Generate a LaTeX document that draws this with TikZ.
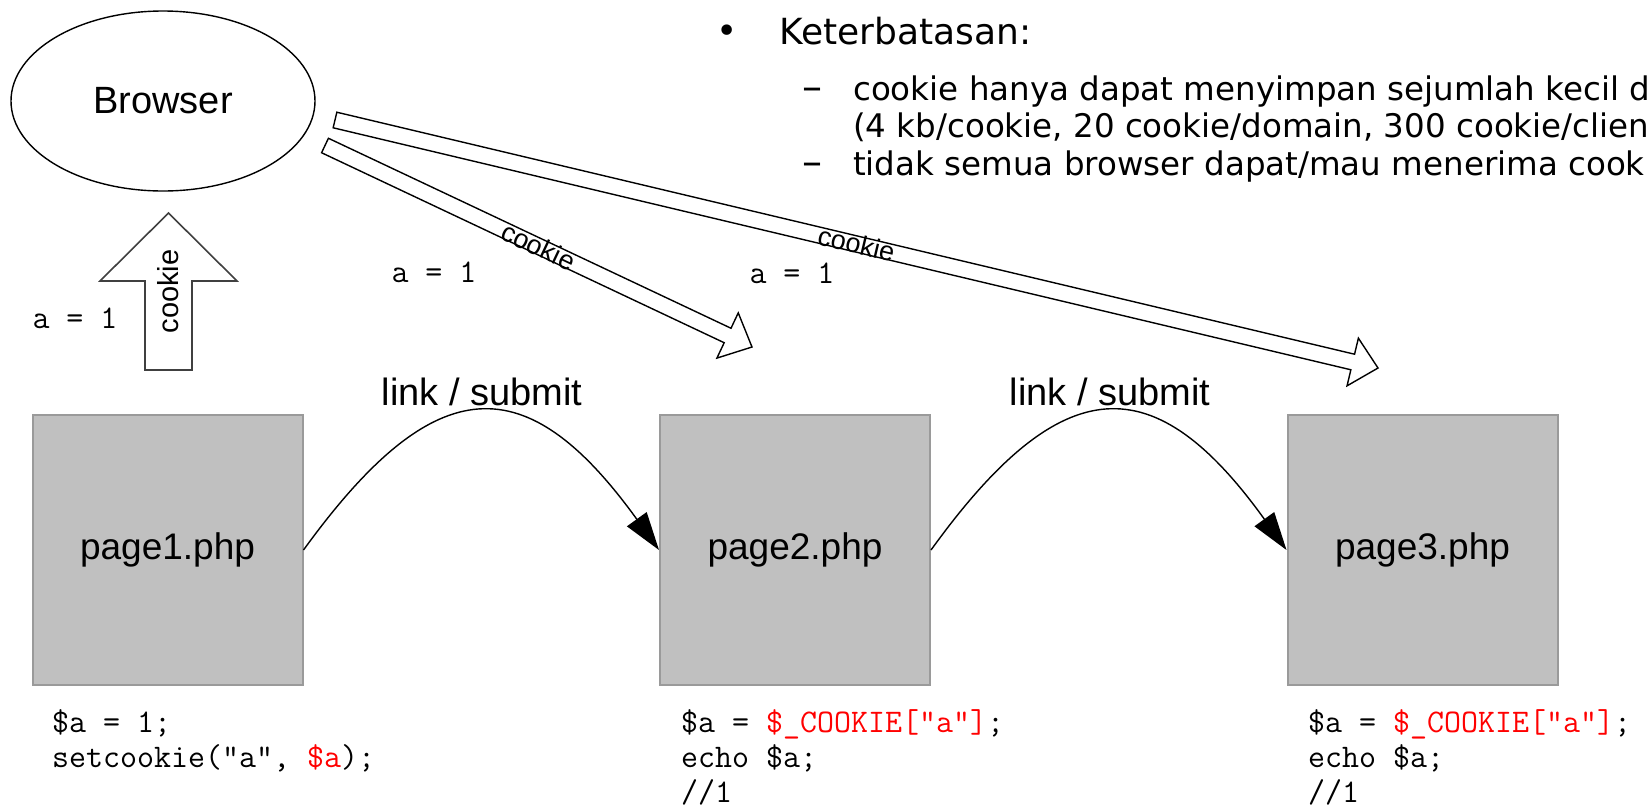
\documentclass[tikz,border=0pt]{standalone}
\usepackage{fontspec}
\setmainfont{Liberation Sans}
\newfontfamily\tahfont{DejaVu Sans}
\usetikzlibrary{shapes.geometric,arrows.meta,calc}
\definecolor{boxgray}{HTML}{C0C0C0}
\definecolor{boxedge}{HTML}{9A9A9A}
\definecolor{codered}{HTML}{FF0000}
% #1 tail, #2 tip, #3 half shaft width, #4 head length, #5 half head width, #6 style
\newcommand{\cookiearrow}[6]{%
  \coordinate (#1hb) at ($(#2)!#4!(#1)$);
  \draw[#6] ($(#1)!#3!90:(#2)$) -- ($(#1hb)!#3!90:(#2)$) -- ($(#1hb)!#5!90:(#2)$) -- (#2)
    -- ($(#1hb)!#5!-90:(#2)$) -- ($(#1hb)!#3!-90:(#2)$) -- ($(#1)!#3!-90:(#2)$) -- cycle;}
\begin{document}
\begin{tikzpicture}[x=1pt, y=-1pt,
  pagebox/.style={draw=boxedge, fill=boxgray, line width=2pt, minimum width=270pt, minimum height=270pt, inner sep=0pt, font=\fontsize{37}{40}\selectfont},
  linkarr/.style={line width=1.4pt, -{Triangle[length=38pt, width=24pt]}},
  blockarr/.style={draw=black, line width=1.4pt, fill=white},
  uparr/.style={draw=black!75, line width=1.6pt, fill=white},
  arrlbl/.style={sloped, inner sep=0pt, font=\fontsize{27}{30}\selectfont},
  mono/.style={anchor=base, inner sep=0pt, font=\ttfamily\fontsize{33}{35}\selectfont},
  code/.style={anchor=base west, inner sep=0pt, font=\ttfamily\fontsize{33}{35}\selectfont},
  linklbl/.style={anchor=base, inner sep=0pt, font=\fontsize{38}{40}\selectfont},
  bigtxt/.style={anchor=base west, inner sep=0pt, font=\tahfont\fontsize{36}{40}\selectfont},
  subtxt/.style={anchor=base west, inner sep=0pt, font=\tahfont\fontsize{32.5}{38}\selectfont},
  dashtxt/.style={anchor=base west, inner sep=0pt, font=\tahfont\fontsize{40}{40}\selectfont}]
\fill[white] (0,0) rectangle (1649,807);
\useasboundingbox (0,0) rectangle (1649,807);

% browser
\node[ellipse, draw, line width=1.4pt, minimum width=304pt, minimum height=180pt, inner sep=0pt,
  font=\fontsize{38}{40}\selectfont] (browser) at (163,101) {Browser};

% text block
\node[inner sep=0pt, font=\tahfont\fontsize{36}{40}\selectfont] (bullet) at (727,34) {•};
\node[bigtxt] (kt) at (779,44) {Keterbatasan:};
\node[dashtxt] (d1) at (802,100) {–};
\node[subtxt] (l1) at (853,100) {cookie hanya dapat menyimpan sejumlah kecil d};
\node[subtxt] (l2) at (853,137) {(4 kb/cookie, 20 cookie/domain, 300 cookie/clien};
\node[dashtxt] (d2) at (802,175) {–};
\node[subtxt] (l3) at (853,175) {tidak semua browser dapat/mau menerima cook};

% pages
\node[pagebox] (p1) at (167.5,550) {page1.php};
\node[pagebox] (p2) at (795,550) {page2.php};
\node[pagebox] (p3) at (1422.5,550) {page3.php};

% link curves
\draw[linkarr] (p1.east) .. controls (436,367) and (527,367) .. (p2.west);
\draw[linkarr] (p2.east) .. controls (1063,367) and (1155,367) .. (p3.west);
\node[linklbl] (lk1) at (482,405) {link / submit};
\node[linklbl] (lk2) at (1110,405) {link / submit};

% up arrow (cookie sent to browser)
\coordinate (ba0tail) at (168.5,370);
\coordinate (ba0tip) at (168.5,213);
\cookiearrow{ba0tail}{ba0tip}{23.5pt}{68pt}{68.5pt}{uparr}
\node[rotate=90, inner sep=0pt, font=\fontsize{29}{30}\selectfont] (lbl0) at ($(ba0tail)!0.5!(ba0tip)$) {cookie};

% block arrows from browser
\coordinate (ba2tail) at (335,120);
\coordinate (ba2tip) at (1378,368);
\cookiearrow{ba2tail}{ba2tip}{8pt}{26pt}{24.5pt}{blockarr}
\coordinate (ba1tail) at (325,145.5);
\coordinate (ba1tip) at (752,347);
\cookiearrow{ba1tail}{ba1tip}{8pt}{27pt}{25pt}{blockarr}
\path (ba1tail) -- node[arrlbl] (lbl1) {cookie} (ba1tip);
\path (ba2tail) -- node[arrlbl] (lbl2) {cookie} (ba2tip);

% a = 1 labels
\node[mono] (v0) at (75,328) {a = 1};
\node[mono] (v1) at (434,282) {a = 1};
\node[mono] (v2) at (792,283) {a = 1};

% code
\node[code] (c1a) at (52,732) {\$a = 1;};
\node[code] (c1b) at (52,767) {setcookie("a", \textcolor{codered}{\$a});};
\node[code] (c2a) at (681,732) {\$a = \textcolor{codered}{\$\_COOKIE["a"]};};
\node[code] (c2b) at (681,767) {echo \$a;};
\node[code] (c2c) at (681,802) {//1};
\node[code] (c3a) at (1308,732) {\$a = \textcolor{codered}{\$\_COOKIE["a"]};};
\node[code] (c3b) at (1308,767) {echo \$a;};
\node[code] (c3c) at (1308,802) {//1};
\end{tikzpicture}
\end{document}
